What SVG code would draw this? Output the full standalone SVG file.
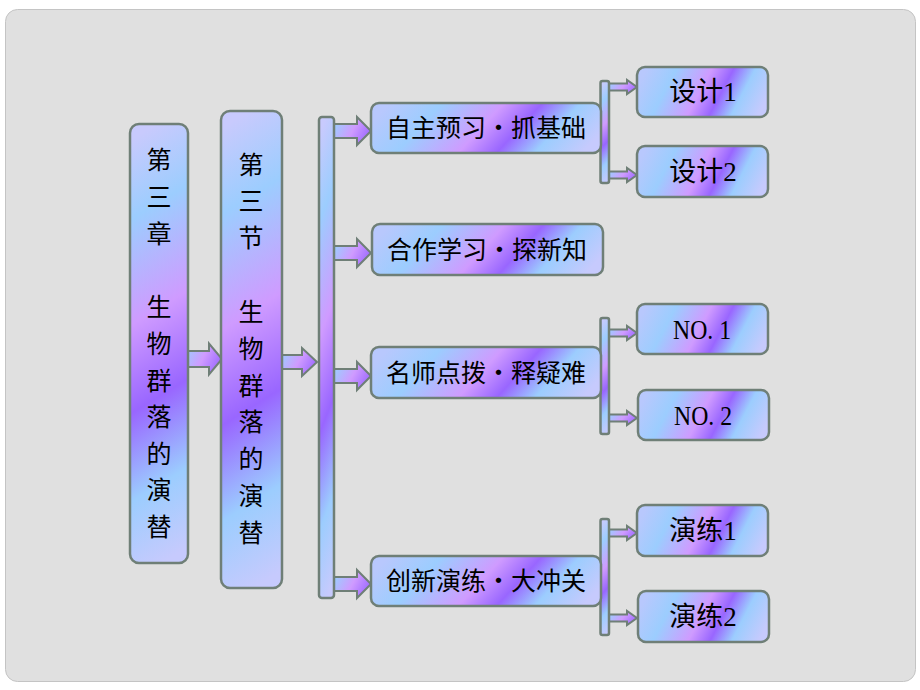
<svg xmlns="http://www.w3.org/2000/svg" width="920" height="690" viewBox="0 0 920 690">
<defs>
<linearGradient id="hg" x1="0" y1="0.4" x2="1" y2="0.6">
<stop offset="0" stop-color="#b8c8fd"/>
<stop offset="0.22" stop-color="#9ccdfe"/>
<stop offset="0.48" stop-color="#cf9bff"/>
<stop offset="0.64" stop-color="#9966ff"/>
<stop offset="0.8" stop-color="#9ccdfe"/>
<stop offset="1" stop-color="#c6cafd"/>
</linearGradient>
<linearGradient id="vg" x1="0.46" y1="0" x2="0.54" y2="1">
<stop offset="0" stop-color="#c8cafd"/>
<stop offset="0.18" stop-color="#9ccdfe"/>
<stop offset="0.42" stop-color="#cf9bff"/>
<stop offset="0.62" stop-color="#9966ff"/>
<stop offset="0.82" stop-color="#9ccdfe"/>
<stop offset="1" stop-color="#c6cafd"/>
</linearGradient>
<linearGradient id="ag" x1="0" y1="0.3" x2="1" y2="0.7">
<stop offset="0" stop-color="#9ccdfe"/>
<stop offset="0.5" stop-color="#cf9bff"/>
<stop offset="1" stop-color="#9966ff"/>
</linearGradient>
<style>
.box{stroke:#6f7f77;stroke-width:2.5}
.h{fill:url(#hg)}
.v{fill:url(#vg)}
.arr{fill:url(#ag);stroke:#6f7f77;stroke-width:2;stroke-linejoin:miter}
.t{font-family:"Noto Sans CJK SC","Liberation Sans",sans-serif;fill:#000;text-anchor:middle}
.m{font-size:25px}
.s{font-family:"Liberation Serif","Noto Sans CJK SC",serif;font-size:27px;fill:#000;text-anchor:middle}
.vt{font-size:25px}
</style>
</defs>
<rect x="0" y="0" width="920" height="690" fill="#ffffff"/>
<rect x="5.5" y="9.5" width="910" height="672" rx="12" fill="#e0e0e0" stroke="#c4c4c4" stroke-width="1"/>

<g id="connectors">
<path class="arr" d="M183,351 H209 V343.5 L222,359 L209,374.5 V367 H183 Z"/>
<path class="arr" d="M280,355 H302 V348 L317,362 L302,376 V369 H280 Z"/>
<path class="arr" d="M334,124 H357 V117 L371,131 L357,145 V138 H334 Z"/>
<path class="arr" d="M334,246 H357 V239 L371,253 L357,267 V260 H334 Z"/>
<path class="arr" d="M334,369 H357 V362 L371,376 L357,390 V383 H334 Z"/>
<path class="arr" d="M334,577 H357 V570 L371,584 L357,598 V591 H334 Z"/>
<path class="arr" d="M609,83.5 H627 V80 L637,87 L627,94 V90.5 H609 Z"/>
<path class="arr" d="M609,171.5 H627 V168 L637,175 L627,182 V178.5 H609 Z"/>
<path class="arr" d="M609,329.5 H627 V326 L637,333 L627,340 V336.5 H609 Z"/>
<path class="arr" d="M609,414.5 H627 V411 L637,418 L627,425 V421.5 H609 Z"/>
<path class="arr" d="M609,529.5 H627 V526 L637,533 L627,540 V536.5 H609 Z"/>
<path class="arr" d="M609,614.5 H627 V611 L637,618 L627,625 V621.5 H609 Z"/>
<rect class="box v" x="319" y="117" width="15" height="481" rx="3"/>
<rect class="box v" x="600.5" y="81" width="8.5" height="102" rx="2"/>
<rect class="box v" x="600.5" y="318" width="8.5" height="116" rx="2"/>
<rect class="box v" x="600.5" y="519" width="8.5" height="116" rx="2"/>
</g>

<g id="n-chapter">
<rect class="box v" x="130" y="124" width="58" height="439" rx="9"/>
<text class="t vt" x="159"><tspan x="159" y="169">第</tspan><tspan x="159" y="206">三</tspan><tspan x="159" y="243">章</tspan><tspan x="159" y="316">生</tspan><tspan x="159" y="353">物</tspan><tspan x="159" y="390">群</tspan><tspan x="159" y="426">落</tspan><tspan x="159" y="463">的</tspan><tspan x="159" y="499">演</tspan><tspan x="159" y="536">替</tspan></text>
</g>

<g id="n-section">
<rect class="box v" x="221" y="111" width="61" height="477" rx="9"/>
<text class="t vt" x="251"><tspan x="251" y="174">第</tspan><tspan x="251" y="210">三</tspan><tspan x="251" y="247">节</tspan><tspan x="251" y="321">生</tspan><tspan x="251" y="358">物</tspan><tspan x="251" y="395">群</tspan><tspan x="251" y="431">落</tspan><tspan x="251" y="468">的</tspan><tspan x="251" y="505">演</tspan><tspan x="251" y="542">替</tspan></text>
</g>

<g id="n-zizhu">
<rect class="box h" x="371" y="103" width="230" height="50" rx="8"/>
<text class="t m" x="486" y="137">自主预习・抓基础</text>
</g>
<g id="n-hezuo">
<rect class="box h" x="372" y="224" width="231" height="51" rx="8"/>
<text class="t m" x="487" y="259">合作学习・探新知</text>
</g>
<g id="n-mingshi">
<rect class="box h" x="371" y="347" width="230" height="51" rx="8"/>
<text class="t m" x="486" y="382">名师点拨・释疑难</text>
</g>
<g id="n-chuangxin">
<rect class="box h" x="371" y="556" width="230" height="50" rx="8"/>
<text class="t m" x="486" y="590">创新演练・大冲关</text>
</g>

<g id="n-sheji1">
<rect class="box h" x="637" y="67" width="131" height="50" rx="8"/>
<text class="s" x="703" y="101">设计1</text>
</g>
<g id="n-sheji2">
<rect class="box h" x="637" y="146" width="131" height="51" rx="8"/>
<text class="s" x="703" y="181">设计2</text>
</g>
<g id="n-no1">
<rect class="box h" x="637" y="304" width="131" height="50" rx="8"/>
<text class="s" x="702" y="339" textLength="58" lengthAdjust="spacingAndGlyphs">NO. 1</text>
</g>
<g id="n-no2">
<rect class="box h" x="638" y="390" width="131" height="50" rx="8"/>
<text class="s" x="703" y="425" textLength="58" lengthAdjust="spacingAndGlyphs">NO. 2</text>
</g>
<g id="n-yanlian1">
<rect class="box h" x="637" y="505" width="131" height="51" rx="8"/>
<text class="s" x="703" y="540">演练1</text>
</g>
<g id="n-yanlian2">
<rect class="box h" x="638" y="591" width="131" height="51" rx="8"/>
<text class="s" x="703" y="626">演练2</text>
</g>
</svg>
